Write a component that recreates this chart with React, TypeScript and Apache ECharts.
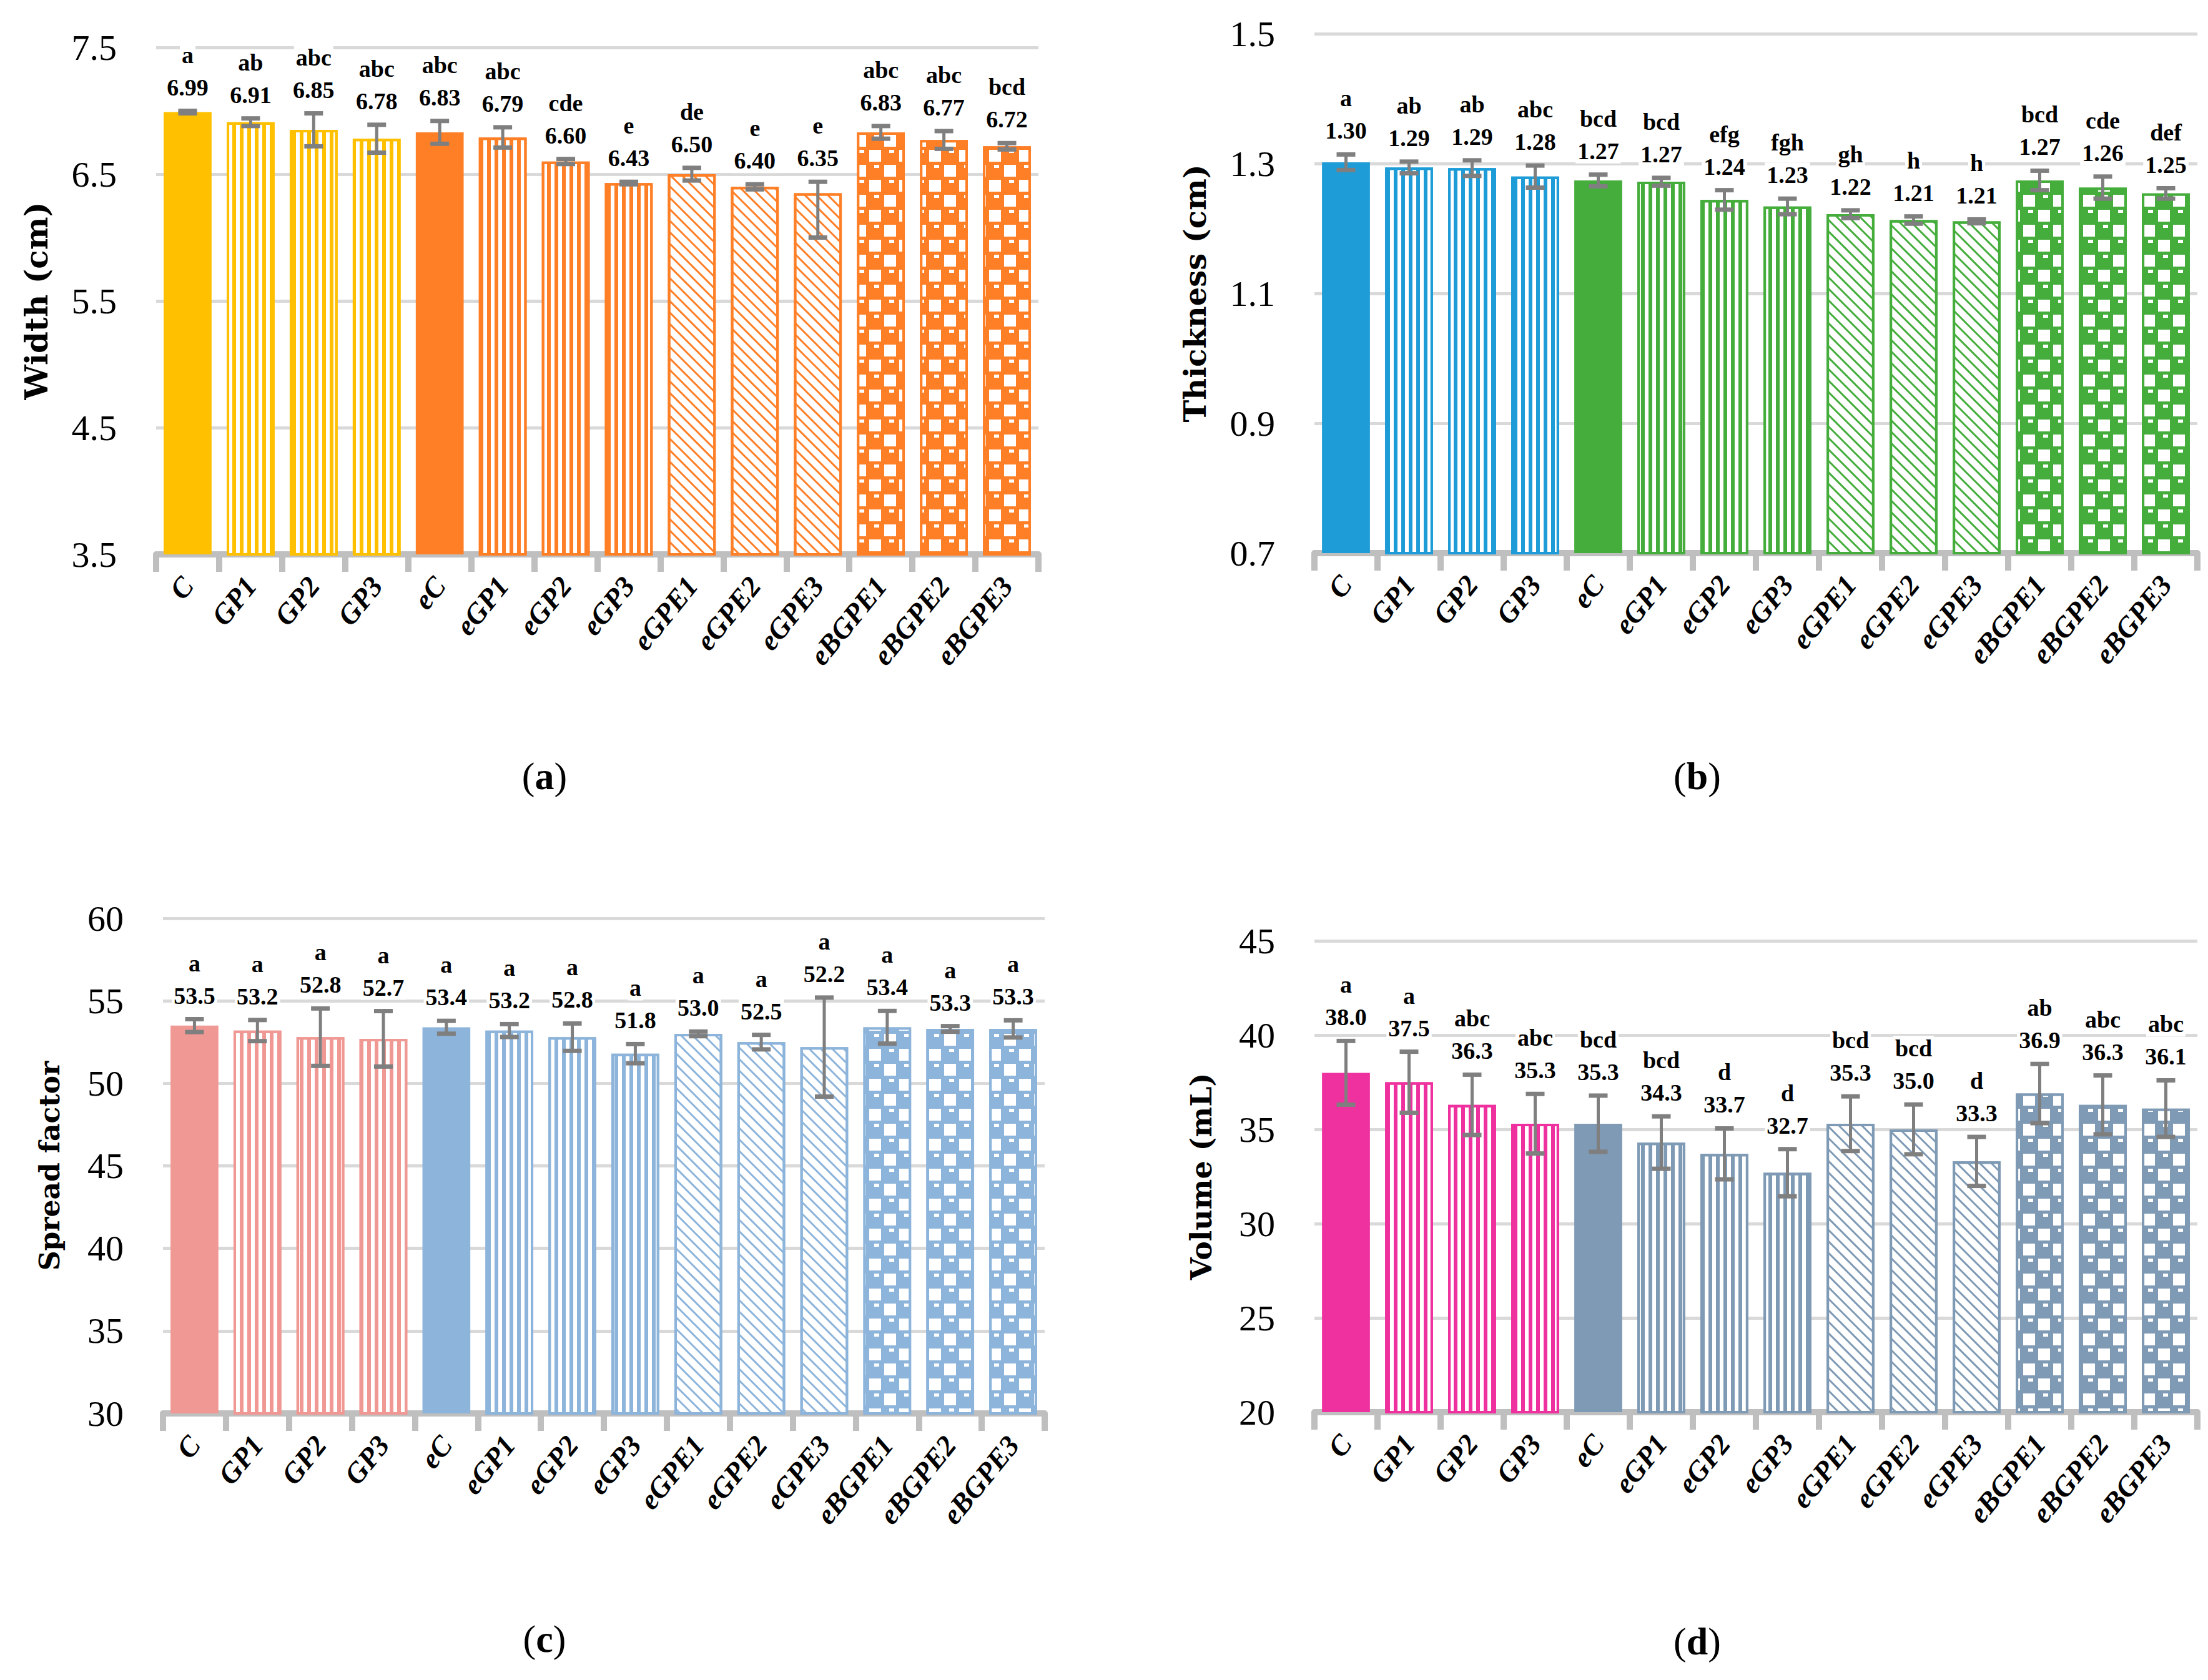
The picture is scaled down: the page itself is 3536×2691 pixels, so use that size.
import React, { useEffect, useRef } from 'react';
import * as echarts from 'echarts';

// ---------- DATA ----------
const categories = ['C', 'GP1', 'GP2', 'GP3', 'eC', 'eGP1', 'eGP2', 'eGP3', 'eGPE1', 'eGPE2', 'eGPE3', 'eBGPE1', 'eBGPE2', 'eBGPE3'];

const widthValues = [6.99, 6.91, 6.85, 6.78, 6.83, 6.79, 6.60, 6.43, 6.50, 6.40, 6.35, 6.83, 6.77, 6.72];
const widthErrPlus = [0.01, 0.03, 0.13, 0.11, 0.09, 0.08, 0.02, 0.01, 0.05, 0.02, 0.09, 0.05, 0.07, 0.025];
const widthErrMinus = [0.01, 0.03, 0.13, 0.11, 0.09, 0.08, 0.02, 0.01, 0.05, 0.02, 0.35, 0.05, 0.07, 0.025];
const widthLetters = ['a', 'ab', 'abc', 'abc', 'abc', 'abc', 'cde', 'e', 'de', 'e', 'e', 'abc', 'abc', 'bcd'];
const widthTicks = [3.5, 4.5, 5.5, 6.5, 7.5];

const thicknessValues = [1.302, 1.294, 1.293, 1.280, 1.274, 1.272, 1.244, 1.234, 1.222, 1.213, 1.211, 1.274, 1.263, 1.254];
const thicknessErr = [0.012, 0.009, 0.012, 0.017, 0.009, 0.006, 0.015, 0.012, 0.006, 0.0056, 0.003, 0.015, 0.017, 0.008];
const thicknessLetters = ['a', 'ab', 'ab', 'abc', 'bcd', 'bcd', 'efg', 'fgh', 'gh', 'h', 'h', 'bcd', 'cde', 'def'];
const thicknessTicks = [0.7, 0.9, 1.1, 1.3, 1.5];

const spreadValues = [53.5, 53.2, 52.8, 52.7, 53.4, 53.2, 52.8, 51.8, 53.0, 52.5, 52.2, 53.4, 53.3, 53.3];
const spreadErr = [0.39, 0.64, 1.74, 1.68, 0.39, 0.39, 0.83, 0.58, 0.14, 0.44, 3.0, 0.99, 0.17, 0.52];
const spreadLetters = ['a', 'a', 'a', 'a', 'a', 'a', 'a', 'a', 'a', 'a', 'a', 'a', 'a', 'a'];
const spreadTicks = [30, 35, 40, 45, 50, 55, 60];

const volumeValues = [38.0, 37.5, 36.3, 35.3, 35.3, 34.3, 33.7, 32.7, 35.3, 35.0, 33.3, 36.9, 36.3, 36.1];
const volumeErr = [1.69, 1.62, 1.6, 1.58, 1.49, 1.39, 1.35, 1.25, 1.45, 1.32, 1.3, 1.57, 1.56, 1.5];
const volumeLetters = ['a', 'a', 'abc', 'abc', 'bcd', 'bcd', 'd', 'd', 'bcd', 'bcd', 'd', 'ab', 'abc', 'abc'];
const volumeTicks = [20, 25, 30, 35, 40, 45];

// ---------- STYLE ----------
const fillKinds = ['solid', 'vstripe', 'vstripe', 'vstripe', 'solid', 'vstripe', 'vstripe', 'vstripe', 'diag', 'diag', 'diag', 'sphere', 'sphere', 'sphere'];

const panels = [
  {
    key: 'a', values: widthValues, plus: widthErrPlus, minus: widthErrMinus, letters: widthLetters, ticks: widthTicks,
    decimals: 2, tickDecimals: 1, yName: 'Width (cm)', colors: ['#FFC000', '#FF7F27'], nameSize: 50,
    grid: { left: 250, top: 76, width: 1413, height: 812 }, nameGap: 167, cap: [872, 1243],
  },
  {
    key: 'b', values: thicknessValues, plus: thicknessErr, minus: thicknessErr, letters: thicknessLetters, ticks: thicknessTicks,
    decimals: 2, tickDecimals: 1, yName: 'Thickness (cm)', colors: ['#1E9CD7', '#44AD3B'], nameSize: 48,
    grid: { left: 2105, top: 54, width: 1414, height: 832 }, nameGap: 167, cap: [2718, 1243],
  },
  {
    key: 'c', values: spreadValues, plus: spreadErr, minus: spreadErr, letters: spreadLetters, ticks: spreadTicks,
    decimals: 1, tickDecimals: 0, yName: 'Spread factor', colors: ['#F09894', '#8DB4DA'], nameSize: 44,
    grid: { left: 261, top: 1471, width: 1412, height: 793 }, nameGap: 160, cap: [872, 2625],
  },
  {
    key: 'd', values: volumeValues, plus: volumeErr, minus: volumeErr, letters: volumeLetters, ticks: volumeTicks,
    decimals: 1, tickDecimals: 0, yName: 'Volume (mL)', colors: ['#EF319F', '#7F9AB5'], nameSize: 46,
    grid: { left: 2105, top: 1507, width: 1414, height: 755 }, nameGap: 158, cap: [2718, 2629],
  },
];

function itemStyleFor(i: number, colors: string[]) {
  const c = i < 4 ? colors[0] : colors[1];
  const kind = fillKinds[i];
  const base = { symbol: 'rect', symbolSize: 1, symbolKeepAspect: false };
  if (kind === 'solid') return { color: c, borderWidth: 0 };
  if (kind === 'vstripe') {
    return { color: '#fff', borderColor: c, borderWidth: 4, decal: { ...base, color: c, dashArrayX: [6, 6], dashArrayY: [60, 0] } };
  }
  if (kind === 'diag') {
    return { color: '#fff', borderColor: c, borderWidth: 4, decal: { ...base, color: c, dashArrayX: [3, 10], dashArrayY: [60, 0], rotation: -Math.PI / 4 } };
  }
  // "sphere"-like: white squares in a staggered grid with small white highlights
  return {
    color: c, borderColor: c, borderWidth: 4,
    decal: {
      ...base, color: '#fff',
      dashArrayX: [[19, 13, 8, 8], [19, 29], [0, 8, 8, 8, 19, 5], [0, 24, 19, 5]],
      dashArrayY: [5, 0, 14, 5, 5, 0, 14, 5],
    },
  };
}

const ERR_COLOR = '#7F7F7F';
const LABEL_FONT = 'bold 38px "Liberation Serif"';

function makeRender(p: any) {
  return (params: any, api: any) => {
    const i = api.value(0);
    const v = api.value(1);
    const up = api.value(2);
    const dn = api.value(3);
    const top = api.coord([i, v + up]);
    const bot = api.coord([i, v - dn]);
    const x = top[0];
    const half = 15;
    const idx = params.dataIndex;
    return {
      type: 'group',
      children: [
        { type: 'line', shape: { x1: x, y1: top[1], x2: x, y2: bot[1] }, style: { stroke: ERR_COLOR, lineWidth: 5 } },
        { type: 'line', shape: { x1: x - half, y1: top[1], x2: x + half, y2: top[1] }, style: { stroke: ERR_COLOR, lineWidth: 7 } },
        { type: 'line', shape: { x1: x - half, y1: bot[1], x2: x + half, y2: bot[1] }, style: { stroke: ERR_COLOR, lineWidth: 7 } },
        {
          type: 'text', x, y: top[1] - 38, z2: 10,
          style: {
            text: p.values[idx].toFixed(p.decimals), font: LABEL_FONT, fill: '#000',
            align: 'center', verticalAlign: 'middle', textAlign: 'center', textVerticalAlign: 'middle',
            backgroundColor: '#fff', padding: [1, 3],
          },
        },
        {
          type: 'text', x, y: top[1] - 90, z2: 10,
          style: {
            text: p.letters[idx], font: LABEL_FONT, fill: '#000',
            align: 'center', verticalAlign: 'middle', textAlign: 'center', textVerticalAlign: 'middle',
            backgroundColor: '#fff', padding: [1, 3],
          },
        },
      ],
    };
  };
}

export default function App() {
  const ref = useRef<HTMLDivElement>(null);
  useEffect(() => {
    if (!ref.current) return;
    const chart = echarts.init(ref.current, undefined, { renderer: 'svg' });
    const grids = panels.map((p) => ({ ...p.grid, containLabel: false }));
    const xAxes = panels.map((p, k) => ({
      type: 'category', gridIndex: k, data: categories,
      axisLine: { show: true, lineStyle: { color: '#BFBFBF', width: 10 } },
      axisTick: { show: true, length: 28, lineStyle: { color: '#BFBFBF', width: 10 } },
      axisLabel: {
        interval: 0, rotate: 51, margin: 42, color: '#000', fontFamily: 'Liberation Serif',
        fontStyle: 'italic', fontWeight: 'bold', fontSize: 46,
      },
      splitLine: { show: false },
    }));
    const yAxes = panels.map((p, k) => {
      const t = p.ticks;
      return {
        type: 'value', gridIndex: k, min: t[0], max: t[t.length - 1],
        interval: Math.round((t[1] - t[0]) * 1000) / 1000,
        axisLine: { show: false }, axisTick: { show: false },
        axisLabel: {
          margin: 63, color: '#000', fontFamily: 'Liberation Serif', fontSize: 58,
          formatter: (val: number) => val.toFixed(p.tickDecimals),
        },
        splitLine: { show: true, lineStyle: { color: '#D9D9D9', width: 5 } },
        name: p.yName, nameLocation: 'middle', nameGap: p.nameGap,
        nameTextStyle: { fontFamily: 'DejaVu Serif', fontWeight: 'bold', fontSize: p.nameSize, color: '#000' },
      };
    });
    const series: any[] = [];
    panels.forEach((p, k) => {
      series.push({
        type: 'bar', xAxisIndex: k, yAxisIndex: k, barCategoryGap: '24%', z: 2,
        data: p.values.map((v, i) => ({ value: v, itemStyle: itemStyleFor(i, p.colors) })),
      });
      series.push({
        type: 'custom', xAxisIndex: k, yAxisIndex: k, z: 3,
        data: p.values.map((v, i) => [i, v, p.plus[i], p.minus[i]]),
        encode: { x: 0, y: 1 },
        renderItem: makeRender(p),
      });
    });
    const graphic = panels.map((p) => ({
      type: 'text', x: p.cap[0], y: p.cap[1],
      style: {
        text: `{p|(}{b|${p.key}}{p|)}`,
        rich: {
          p: { fontSize: 62, fontFamily: 'Liberation Serif', fill: '#000' },
          b: { fontSize: 62, fontFamily: 'Liberation Serif', fontWeight: 'bold', fill: '#000' },
        },
        align: 'center', verticalAlign: 'middle', textAlign: 'center', textVerticalAlign: 'middle',
      },
    }));
    chart.setOption({
      animation: false,
      backgroundColor: '#fff',
      grid: grids,
      xAxis: xAxes,
      yAxis: yAxes,
      series,
      graphic,
    });
    return () => chart.dispose();
  }, []);
  return <div ref={ref} style={{ position: 'absolute', left: 0, top: 0, width: 3536, height: 2691 }} />;
}
